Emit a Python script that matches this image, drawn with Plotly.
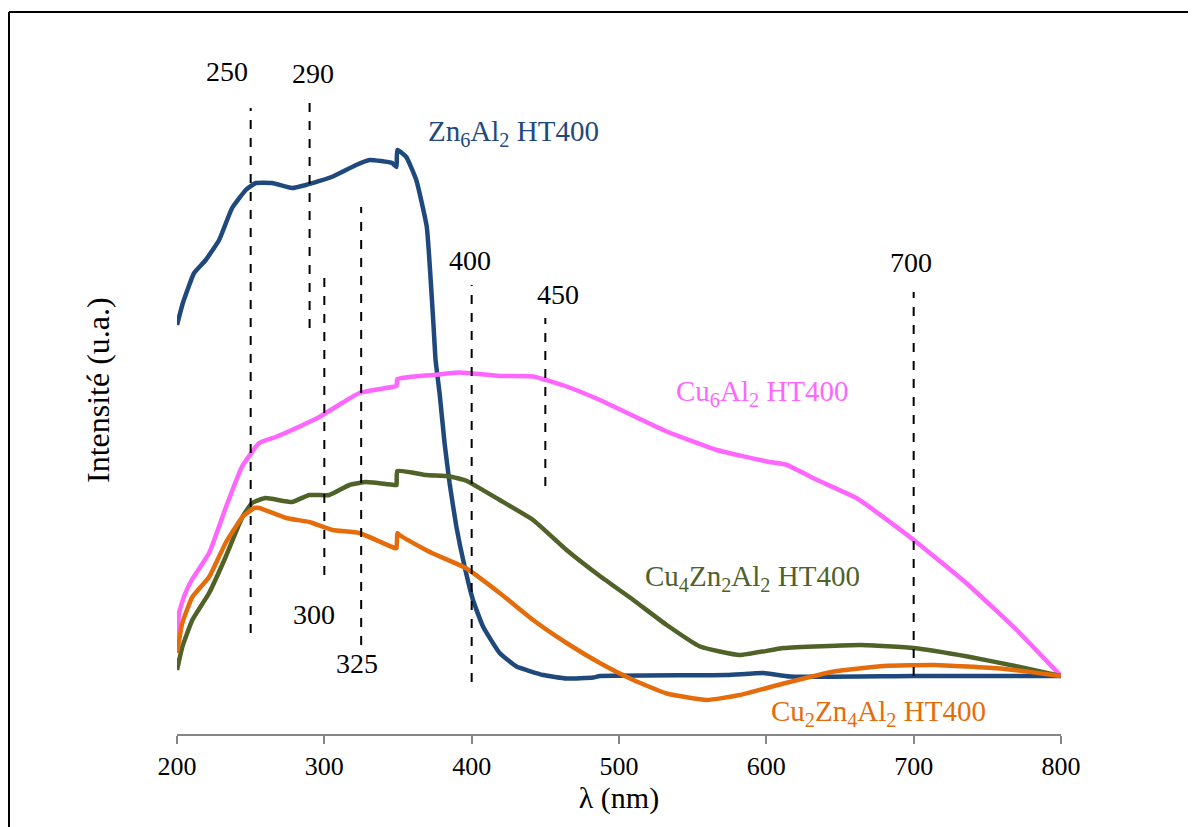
import plotly.graph_objects as go

# ---------------- data (wavelength nm, intensity a.u.) ----------------
zn6_x = [200, 204, 211.6, 219.5, 228.6, 237.4, 246.7, 253.5, 264.6, 278, 287.5, 305, 321.6, 330.6, 346, 349,
         349.5, 355.6, 362.4, 369.5, 374, 375.5, 378.2, 381.6, 385, 389.6, 395.2, 400.9, 407.7, 419, 430.4,
         448.5, 464.4, 482.5, 487, 573, 598, 616, 700, 800]
zn6_y = [82.6, 87, 93, 95.6, 99.6, 106, 109.6, 111, 111, 110, 110.6, 112.2, 114.6, 115.6, 115, 114.2,
         117.6, 116.2, 111.6, 102.3, 83, 75.6, 69, 59, 51, 42.3, 34.3, 27.6, 22.3, 17, 14.3,
         12.6, 11.9, 12.1, 12.4, 12.6, 13, 12.3, 12.4, 12.4]

cu6_x = [200, 201.4, 205, 210, 221.8, 233, 244, 255.8, 267, 278, 296.6, 312, 323.8, 346, 349, 349.5, 357.8,
         373.7, 391.8, 419, 441.7, 464.4, 487, 532.4, 566.5, 600.5, 614, 634.5, 661.7, 700, 736, 770, 800]
cu6_y = [19, 25, 28.5, 31.6, 37, 46, 54.2, 59, 60.2, 61.6, 64.2, 67, 69, 70.2, 70.4, 71.8, 72.2,
         72.6, 73.1, 72.4, 72.3, 70.3, 67.6, 61.3, 57.6, 55.3, 54.6, 51.6, 47.9, 39.6, 30.9, 21.6, 12.4]

cu4_x = [200, 203.6, 210.4, 221.8, 233, 244.4, 251, 260, 278, 289.8, 303.4, 317, 328.4, 347.6, 349, 349.5,
         369, 385, 396, 419, 441.7, 464.4, 487, 509.7, 532.4, 555, 582, 611.8, 664, 700, 736.5, 770.5, 800]
cu4_y = [13.6, 18.2, 23.6, 29, 36.2, 44.2, 47, 48, 47.2, 48.6, 48.6, 50.6, 51.2, 50.6, 50.6, 53.4,
         52.6, 52.3, 51.5, 47.6, 43.6, 37.6, 32.4, 27.6, 22.6, 18.3, 16.6, 18, 18.6, 18, 16.3, 14.3, 12.4]

cu2_x = [200, 203.6, 210.4, 221.8, 233, 244.4, 252.4, 255.8, 274, 289.8, 305.6, 323.8, 347.6, 349, 349.5,
         351, 369, 373.7, 396, 419, 441.7, 464.4, 487, 509.7, 532.4, 559.6, 582, 611.8, 645.8, 680, 714,
         759, 800]
cu2_y = [17, 23, 28.2, 32.2, 39, 44.2, 46, 46, 44, 43.2, 41.6, 41, 38, 38, 41,
         40.6, 37.6, 36.9, 34, 29, 23.6, 19, 15, 11.6, 8.9, 7.6, 8.6, 10.9, 13.3, 14.4, 14.6,
         13.9, 12.4]

series_names = ["Zn<sub>6</sub>Al<sub>2</sub> HT400", "Cu<sub>6</sub>Al<sub>2</sub> HT400",
                "Cu<sub>4</sub>Zn<sub>2</sub>Al<sub>2</sub> HT400", "Cu<sub>2</sub>Zn<sub>4</sub>Al<sub>2</sub> HT400"]

# marker wavelengths (dashed lines) and their vertical extents
mark_x = [250, 290, 300, 325, 400, 450, 700]
mark_y0 = [21, 82, 32.6, 18.6, 11.2, 50.4, 12.4]
mark_y1 = [126, 127.8, 92.4, 106.2, 90.6, 84, 89.2]
mark_labels = ["250", "290", "300", "325", "400", "450", "700"]
mark_label_x = [233.9, 292.3, 293.3, 322.2, 399.2, 458.6, 698.5]
mark_label_y = [133.4, 133, 24.8, 15, 95.6, 88.8, 95.2]

x_ticks = [200, 300, 400, 500, 600, 700, 800]

# ---------------- figure ----------------
colors = ["#1F497D", "#FF66FF", "#4F6228", "#E46C0A"]
label_pos = [(428.7, 121), (597.7, 69), (590.3, 32), (675.8, 5)]

FONT = "Liberation Serif"
fig = go.Figure()
for xs, ys, c, n in zip([zn6_x, cu6_x, cu4_x, cu2_x], [zn6_y, cu6_y, cu4_y, cu2_y], colors, series_names):
    fig.add_trace(go.Scatter(x=xs, y=ys, mode="lines", line=dict(color=c, width=4.5, shape="spline", smoothing=0.4),
                             name=n, showlegend=False, hoverinfo="skip"))

for xv, y0, y1 in zip(mark_x, mark_y0, mark_y1):
    fig.add_shape(type="line", xref="x", yref="y", x0=xv, x1=xv, y0=y0, y1=y1,
                  line=dict(color="black", width=2, dash="dash"))

for t, xv, yv in zip(mark_labels, mark_label_x, mark_label_y):
    fig.add_annotation(x=xv, y=yv, xref="x", yref="y", text=t, showarrow=False,
                       font=dict(family=FONT, size=28, color="black"))

for (lx, ly), c, n in zip(label_pos, colors, series_names):
    fig.add_annotation(x=lx, y=ly, xref="x", yref="y", text=n, showarrow=False,
                       font=dict(family=FONT, size=29, color=c))

# page offset of the plot (body margin 8px)
OFF = 8
L, W, T, H = 177 - OFF, 884, 40 - OFF, 694
FW, FH = 1196 - OFF, 827 - OFF


def px(x):
    return (x - OFF - L) / W


def py(y):
    return (T + H - (y - OFF)) / H


# y-axis title
fig.add_annotation(x=px(78), y=py(390), xref="paper", yref="paper", text="Intensité (u.a.)",
                   textangle=-90, showarrow=False, font=dict(family=FONT, size=32, color="black"))

# frame (top and left)
fig.add_shape(type="line", xref="paper", yref="paper", x0=px(9), x1=px(1210), y0=py(12), y1=py(12),
              line=dict(color="black", width=2))
fig.add_shape(type="line", xref="paper", yref="paper", x0=px(9), x1=px(9), y0=py(12), y1=py(840),
              line=dict(color="black", width=2))

fig.update_layout(
    width=FW, height=FH,
    margin=dict(l=L, r=FW - L - W, t=T, b=FH - T - H),
    paper_bgcolor="white", plot_bgcolor="white",
    xaxis=dict(range=[200, 800], tickvals=x_ticks, ticks="outside", ticklen=8, tickcolor="#868686",
               tickwidth=1.5, showline=True, linecolor="#868686", linewidth=1.5, showgrid=False,
               zeroline=False, tickfont=dict(family=FONT, size=26, color="black"),
               title=dict(text="λ (nm)", font=dict(family=FONT, size=30, color="black"), standoff=4)),
    yaxis=dict(range=[0.8, 139.6], showticklabels=False, ticks="", showline=False, showgrid=False,
               zeroline=False),
)
fig.write_html("out.html")
